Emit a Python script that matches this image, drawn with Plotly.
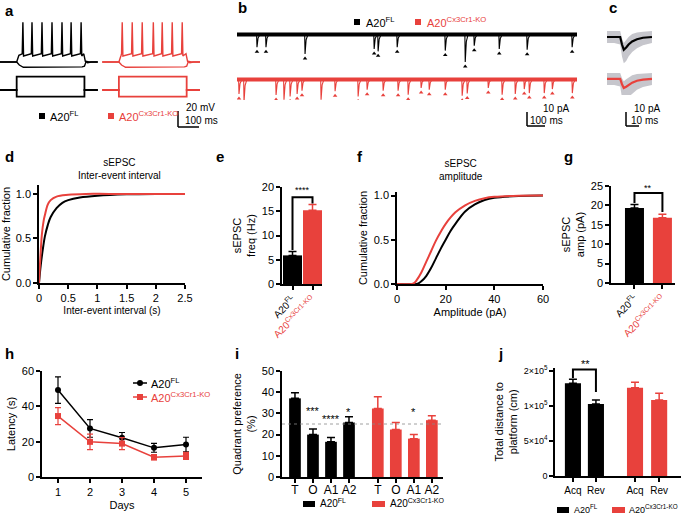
import plotly.graph_objects as go

W, H = 685, 514
BLACK = "#000000"
RED = "#E8413C"
GRAY = "#c6c6cc"
FONT = "Liberation Sans, Arial, sans-serif"

# ---------------- data ----------------
# panel a: current-clamp traces (ms, mV, pA)
a_t_end = 440
a_step_on, a_step_off = 75, 380
a_spikes_fl = [103, 144, 189, 234, 279, 320, 365]
a_spikes_ko = [90, 135, 180, 230, 270, 315, 360]
a_rest, a_plateau, a_peak, a_hyper = -65, -54, -12, -72
a_i_pos, a_i_neg = 200, -100

# panel b: sEPSC event times (ms) and amplitudes (pA)
b_fl_t = [111, 161, 378, 762, 784, 890, 1157, 1268, 1318, 1457, 1612, 1862]
b_fl_amp = [8.2, 8.2, 12.7, 9.3, 10.9, 8.2, 10.4, 18.0, 7.1, 9.3, 9.8, 8.2]
b_ko_t = [11, 39, 217, 261, 295, 334, 361, 467, 545, 673, 723, 812, 895, 951,
          1023, 1068, 1157, 1251, 1279, 1396, 1473, 1546, 1596, 1624, 1707, 1752, 1863]
b_ko_amp = [9.3, 14.5, 10.0, 13.1, 10.9, 9.3, 7.1, 13.1, 7.5, 10.9, 6.5, 7.1, 7.1, 9.8,
            5.3, 6.5, 6.5, 10.5, 8.9, 5.3, 9.8, 9.3, 6.0, 8.7, 8.7, 6.0, 8.7]
b_duration = 1889

# panel c: averaged sEPSC (ms, pA)
c_t = [0, 6, 11, 12.5, 14, 16, 18, 21, 25, 30, 37.5]
c_fl_mean = [0, 0, 0, -5, -8.5, -7, -5, -3, -1.5, -0.5, 0]
c_fl_up = [4, 4, 4, 4, 4.5, 5, 5, 5, 4.5, 4, 4]
c_fl_lo = [4, 4, 5, 8, 9, 9, 8, 7, 6, 5, 4]
c_ko_mean = [0, 0, 0, -3.5, -6, -5.2, -4, -2.5, -1.2, -0.4, 0]
c_ko_up = [4, 4, 4, 4, 4.5, 5, 5, 5, 4.5, 4, 4]
c_ko_lo = [4, 4, 5, 9, 10, 9, 8, 7, 6, 5, 4]

# panel d: cumulative inter-event interval
d_fl_x = [0, 0.03, 0.07, 0.1, 0.15, 0.2, 0.3, 0.4, 0.5, 0.7, 1.0, 1.5, 2.0, 2.5]
d_fl_y = [0, 0.2, 0.4, 0.52, 0.65, 0.74, 0.84, 0.9, 0.93, 0.96, 0.98, 0.995, 1, 1]
d_ko_x = [0, 0.02, 0.05, 0.08, 0.1, 0.15, 0.2, 0.3, 0.5, 0.8, 1.2, 2.5]
d_ko_y = [0, 0.25, 0.55, 0.7, 0.76, 0.88, 0.93, 0.97, 0.99, 1, 1, 1]

# panel e: sEPSC frequency (Hz)
e_vals = [5.9, 15.2]
e_errs = [0.8, 1.2]

# panel f: cumulative amplitude
f_fl_x = [0, 8, 9, 10, 12, 14, 16, 18, 20, 22, 24, 28, 32, 36, 40, 50, 60]
f_fl_y = [0, 0, 0.01, 0.03, 0.09, 0.18, 0.29, 0.4, 0.5, 0.6, 0.68, 0.82, 0.9, 0.95, 0.975, 0.995, 1]
f_ko_x = [0, 6, 7, 8, 10, 12, 14, 16, 18, 20, 24, 28, 32, 36, 40, 50, 60]
f_ko_y = [0, 0, 0.01, 0.04, 0.13, 0.25, 0.37, 0.49, 0.59, 0.68, 0.81, 0.89, 0.94, 0.97, 0.985, 0.998, 1]

# panel g: sEPSC amplitude (pA)
g_vals = [19.3, 16.8]
g_errs = [0.9, 0.9]

# panel h: latency (s)
h_days = [1, 2, 3, 4, 5]
h_fl = [49.2, 27.5, 22.2, 16.5, 18.4]
h_fl_err = [7.5, 5.0, 3.0, 2.5, 4.1]
h_ko = [34.5, 19.9, 18.9, 11.2, 11.9]
h_ko_err = [4.8, 4.4, 3.4, 1.5, 2.0]

# panel i: quadrant preference (%)
i_cats = ["T", "O", "A1", "A2"]
i_fl = [37.1, 20.0, 16.6, 25.7]
i_fl_err = [2.6, 2.6, 2.0, 2.7]
i_ko = [32.3, 22.4, 18.1, 26.8]
i_ko_err = [5.6, 3.3, 1.9, 2.1]

# panel j: total distance (cm)
j_cats = ["Acq", "Rev"]
j_fl = [1.324e5, 1.029e5]
j_fl_err = [0.057e5, 0.057e5]
j_ko = [1.262e5, 1.086e5]
j_ko_err = [0.076e5, 0.095e5]
j_tickvals = [0, 5e4, 1e5, 1.5e5]
j_ticktext = ["0", "5×10<sup>4</sup>", "1×10<sup>5</sup>", "2×10<sup>5</sup>"]

FL = "A20<sup>FL</sup>"
KO = "A20<sup>Cx3Cr1-KO</sup>"

# ---------------- helpers ----------------
def xd(x0, x1):
    return [x0 / W, x1 / W]

def yd(y0, y1):
    return [1 - y1 / H, 1 - y0 / H]

fig = go.Figure()
shapes = []
anns = []

def px(x):
    return x / W

def py(y):
    return 1 - y / H

def pline(x0, y0, x1, y1, color=BLACK, width=1.5):
    shapes.append(dict(type="line", xref="paper", yref="paper", x0=px(x0), y0=py(y0),
                       x1=px(x1), y1=py(y1), line=dict(color=color, width=width)))

def prect(x0, y0, x1, y1, color):
    shapes.append(dict(type="rect", xref="paper", yref="paper", x0=px(x0), y0=py(y0),
                       x1=px(x1), y1=py(y1), line=dict(width=0), fillcolor=color))

def ann(text, x, y, size=11, color=BLACK, xanchor="left", yanchor="middle", bold=False):
    if bold:
        text = "<b>" + text + "</b>"
    anns.append(dict(text=text, xref="paper", yref="paper", x=px(x), y=py(y), showarrow=False,
                     xanchor=xanchor, yanchor=yanchor, font=dict(size=size, color=color, family=FONT)))

def dann(text, xr, yr, x, y, size=11, color=BLACK):
    anns.append(dict(text=text, xref=xr, yref=yr, x=x, y=y, showarrow=False, xanchor="center",
                     yanchor="middle", font=dict(size=size, color=color, family=FONT)))

def dpath(xr, yr, xs, ys, color=BLACK, width=1.6):
    d = "M " + " L ".join(f"{a},{b}" for a, b in zip(xs, ys))
    shapes.append(dict(type="path", xref=xr, yref=yr, path=d, line=dict(color=color, width=width)))

HIDDEN = dict(visible=False, fixedrange=True, showgrid=False, zeroline=False)

def axis(**kw):
    d = dict(showline=True, linecolor=BLACK, linewidth=1.5, ticks="outside", ticklen=4,
             tickwidth=1.5, tickcolor=BLACK, showgrid=False, zeroline=False, mirror=False,
             tickfont=dict(size=11, family=FONT, color=BLACK), fixedrange=True)
    d.update(kw)
    return d

def title(text, size=11, standoff=None):
    t = dict(text=text, font=dict(size=size, family=FONT, color=BLACK))
    if standoff is not None:
        t["standoff"] = standoff
    return t

# ---------------- panel a ----------------
def vtrace(spikes):
    t = [0, a_step_on, a_step_on + 10]
    v = [a_rest, a_rest, a_plateau - 2]
    for s in spikes:
        t += [s - 3, s, s + 3]
        v += [a_plateau, a_peak, a_plateau - 3]
    t += [a_step_off - 3, a_step_off + 4, a_step_off + 14, a_step_off + 30, a_t_end]
    v += [a_plateau, a_rest + 1, a_rest - 1, a_rest, a_rest]
    return t, v

def htrace():
    t = [0, a_step_on, a_step_on + 12, a_step_on + 30, a_step_off - 10, a_step_off,
         a_step_off + 8, a_step_off + 20, a_t_end]
    v = [a_rest, a_rest, a_hyper + 3, a_hyper, a_hyper + 0.5, a_hyper + 1.5, a_rest + 1, a_rest, a_rest]
    return t, v

def itrace(amp):
    return ([0, a_step_on, a_step_on, a_step_off, a_step_off, a_t_end],
            [0, 0, amp, amp, 0, 0])

ko_shift = 460
for spikes, col, sh in [(a_spikes_fl, BLACK, 0), (a_spikes_ko, RED, ko_shift)]:
    t, v = vtrace(spikes)
    fig.add_trace(go.Scatter(x=[q + sh for q in t], y=v, mode="lines", line=dict(color=col, width=1.4),
                             xaxis="x", yaxis="y", hoverinfo="skip"))
    t, v = htrace()
    fig.add_trace(go.Scatter(x=[q + sh for q in t], y=v, mode="lines", line=dict(color=col, width=1.4),
                             xaxis="x", yaxis="y", hoverinfo="skip"))
    for amp in (a_i_pos, a_i_neg):
        t, v = itrace(amp)
        fig.add_trace(go.Scatter(x=[q + sh for q in t], y=v, mode="lines", line=dict(color=col, width=1.8),
                                 xaxis="x2", yaxis="y2", hoverinfo="skip"))

# ---------------- panel b ----------------
def etrace(times, amps, base):
    t, y = [0], [base]
    for te, a in zip(times, amps):
        t += [te - 2, te, te + 1.5, te + 6, te + 15]
        y += [base, base - a, base - a * 0.6, base - a * 0.25, base]
    t.append(b_duration)
    y.append(base)
    return t, y

for times, amps, col, base in [(b_fl_t, b_fl_amp, BLACK, 0), (b_ko_t, b_ko_amp, RED, -30)]:
    fig.add_trace(go.Scatter(x=[0, b_duration], y=[base + 0.3, base + 0.3], mode="lines",
                             line=dict(color=col, width=4), xaxis="x3", yaxis="y3", hoverinfo="skip"))
    t, y = etrace(times, amps, base)
    fig.add_trace(go.Scatter(x=t, y=y, mode="lines", line=dict(color=col, width=1.1),
                             xaxis="x3", yaxis="y3", hoverinfo="skip"))
    fig.add_trace(go.Scatter(x=times, y=[base - a - 3 for a in amps], mode="markers",
                             marker=dict(symbol="triangle-up", size=4, color=col),
                             xaxis="x3", yaxis="y3", hoverinfo="skip"))

# ---------------- panel c ----------------
for mean, up, lo, col, base in [(c_fl_mean, c_fl_up, c_fl_lo, BLACK, 0),
                                (c_ko_mean, c_ko_up, c_ko_lo, RED, -28)]:
    upper = [base + m + u for m, u in zip(mean, up)]
    lower = [base + m - l for m, l in zip(mean, lo)]
    fig.add_trace(go.Scatter(x=c_t + c_t[::-1], y=upper + lower[::-1], fill="toself",
                             fillcolor=GRAY, line=dict(width=0), mode="lines",
                             xaxis="x4", yaxis="y4", hoverinfo="skip"))
    fig.add_trace(go.Scatter(x=c_t, y=[base + m for m in mean], mode="lines",
                             line=dict(color=col, width=2.2), xaxis="x4", yaxis="y4", hoverinfo="skip"))

# ---------------- panel d ----------------
fig.add_trace(go.Scatter(x=d_fl_x, y=d_fl_y, mode="lines", line=dict(color=BLACK, width=2, shape="spline"),
                         xaxis="x5", yaxis="y5"))
fig.add_trace(go.Scatter(x=d_ko_x, y=d_ko_y, mode="lines", line=dict(color=RED, width=2, shape="spline"),
                         xaxis="x5", yaxis="y5"))

# ---------------- bars helper ----------------
def bar(xs, ys, errs, col, width, xa, ya):
    fig.add_trace(go.Bar(x=xs, y=ys, width=width, marker=dict(color=col, line=dict(width=0)),
                         error_y=dict(type="data", array=errs, arrayminus=[0] * len(errs), symmetric=False,
                                      color=col, thickness=1.5, width=4),
                         xaxis=xa, yaxis=ya))

# panel e
bar([0], [e_vals[0]], [e_errs[0]], BLACK, 0.95, "x6", "y6")
bar([1], [e_vals[1]], [e_errs[1]], RED, 0.95, "x6", "y6")
dpath("x6", "y6", [0, 0, 1, 1], [7.0, 17.9, 17.9, 16.6], width=2)
dann("****", "x6", "y6", 0.5, 19.3, size=9)

# ---------------- panel f ----------------
fig.add_trace(go.Scatter(x=f_fl_x, y=f_fl_y, mode="lines", line=dict(color=BLACK, width=2, shape="spline"),
                         xaxis="x7", yaxis="y7"))
fig.add_trace(go.Scatter(x=f_ko_x, y=f_ko_y, mode="lines", line=dict(color=RED, width=2, shape="spline"),
                         xaxis="x7", yaxis="y7"))

# panel g
bar([0], [g_vals[0]], [g_errs[0]], BLACK, 0.68, "x8", "y8")
bar([1], [g_vals[1]], [g_errs[1]], RED, 0.68, "x8", "y8")
dpath("x8", "y8", [0, 0, 1, 1], [20.6, 23.2, 23.2, 18.3], width=2)
dann("**", "x8", "y8", 0.5, 24.4, size=9)

# ---------------- panel h ----------------
fig.add_trace(go.Scatter(x=h_days, y=h_fl, mode="lines+markers", line=dict(color=BLACK, width=1.5),
                         marker=dict(symbol="circle", size=6, color=BLACK),
                         error_y=dict(type="data", array=h_fl_err, color=BLACK, thickness=1.2, width=3),
                         xaxis="x9", yaxis="y9"))
fig.add_trace(go.Scatter(x=h_days, y=h_ko, mode="lines+markers", line=dict(color=RED, width=1.5),
                         marker=dict(symbol="square", size=6, color=RED),
                         error_y=dict(type="data", array=h_ko_err, color=RED, thickness=1.2, width=3),
                         xaxis="x9", yaxis="y9"))

# ---------------- panel i ----------------
i_pos_fl = [k for k in range(len(i_cats))]
i_pos_ko = [k + 4.6 for k in range(len(i_cats))]
bar(i_pos_fl, i_fl, i_fl_err, BLACK, 0.65, "x10", "y10")
bar(i_pos_ko, i_ko, i_ko_err, RED, 0.65, "x10", "y10")
shapes.append(dict(type="line", xref="x10 domain", yref="y10", x0=0, x1=1, y0=25, y1=25,
                   line=dict(color="#888888", width=0.8, dash="dot")))
dann("***", "x10", "y10", i_pos_fl[1], 31.0, size=11)
dann("****", "x10", "y10", i_pos_fl[2], 27.5, size=11)
dann("*", "x10", "y10", i_pos_fl[3], 30.8, size=11)
dann("*", "x10", "y10", i_pos_ko[2], 30.8, size=11)

# ---------------- panel j ----------------
j_pos_fl = [0, 1]
j_pos_ko = [2.7, 3.75]
bar(j_pos_fl, j_fl, j_fl_err, BLACK, 0.7, "x11", "y11")
bar(j_pos_ko, j_ko, j_ko_err, RED, 0.7, "x11", "y11")
dpath("x11", "y11", [0, 0, 1, 1], [1.40e5, 1.52e5, 1.52e5, 1.20e5], width=2)

# ---------------- annotations: letters, titles, legends, scale bars ----------------
for L, x, y in [("a", 3, 10), ("b", 236, 8), ("c", 607, 8), ("d", 3, 156), ("e", 214, 156),
                ("f", 355, 156), ("g", 562, 156), ("h", 3, 353), ("i", 233, 353), ("j", 496, 353)]:
    ann(L, x, y, size=15, bold=True)

# panel j significance (above the axis range, so placed on the page)
ann("**", 585, 364, size=11, xanchor="center")

# panel a legend and scale
prect(39, 113, 45, 119, BLACK)
ann(FL, 48, 116, size=11)
prect(108, 113, 114, 119, RED)
ann(KO, 117, 116, size=11, color=RED)
pline(178, 111, 178, 127)
pline(178, 127, 199, 127)
ann("20 mV", 184, 107, size=10)
ann("100 ms", 183, 120, size=10)

# panel b legend and scale
prect(354, 19, 360, 25, BLACK)
ann(FL, 364, 22, size=11)
prect(415, 19, 421, 25, RED)
ann(KO, 425, 22, size=11, color=RED)
pline(527, 112, 527, 126)
pline(527, 126, 545, 126)
ann("10 pA", 541, 108, size=10)
ann("100 ms", 528, 120, size=10)

# panel c scale
pline(626, 112, 626, 126)
pline(626, 126, 639, 126)
ann("10 pA", 632, 108, size=10)
ann("10 ms", 629, 120, size=10)

# panel d, f titles
ann("sEPSC<br>Inter-event interval", 119, 169, size=10, xanchor="center")
ann("sEPSC<br>amplitude", 461, 170, size=10, xanchor="center")

# panel h legend
pline(133, 383, 147, 383, BLACK, 1.5)
shapes.append(dict(type="circle", xref="paper", yref="paper", x0=px(137), x1=px(143), y0=py(380), y1=py(386),
                   fillcolor=BLACK, line=dict(width=0)))
ann(FL, 149, 383, size=11)
pline(133, 397, 147, 397, RED, 1.5)
prect(137, 394, 143, 400, RED)
ann(KO, 149, 397, size=11, color=RED)

# panel i legend
prect(303, 501, 315, 507, BLACK)
ann(FL, 318, 503, size=10)
prect(372, 501, 385, 507, RED)
ann(KO, 388, 503, size=10)

# panel j legend
prect(557, 507, 569, 513, BLACK)
ann(FL, 572, 509, size=9)
prect(612, 507, 625, 513, RED)
ann(KO, 627, 509, size=9)

rot_ticks = [FL, f"<span style='color:{RED}'>{KO}</span>"]

layout = dict(
    width=W, height=H, margin=dict(l=0, r=0, t=0, b=0, autoexpand=False),
    paper_bgcolor="white", plot_bgcolor="white",
    showlegend=False, barmode="overlay", font=dict(family=FONT, size=11, color=BLACK),
    # a
    xaxis=dict(HIDDEN, domain=xd(0, 205), range=[0, 922.5], anchor="y"),
    yaxis=dict(HIDDEN, domain=yd(15, 75), range=[-82.3, -2.3], anchor="x"),
    xaxis2=dict(HIDDEN, domain=xd(0, 205), range=[0, 922.5], anchor="y2"),
    yaxis2=dict(HIDDEN, domain=yd(72, 100), range=[-150, 270], anchor="x2"),
    # b
    xaxis3=dict(HIDDEN, domain=xd(237, 577), range=[0, b_duration], anchor="y3"),
    yaxis3=dict(HIDDEN, domain=yd(15, 100), range=[-43.3, 13.3], anchor="x3"),
    # c
    xaxis4=dict(HIDDEN, domain=xd(605, 657), range=[-1.67, 41.7], anchor="y4"),
    yaxis4=dict(HIDDEN, domain=yd(25, 95), range=[-38.7, 8], anchor="x4"),
    # d
    xaxis5=axis(domain=xd(39, 185), range=[0, 2.5], anchor="y5", tickvals=[0, 0.5, 1, 1.5, 2, 2.5],
                ticktext=["0", "0.5", "1", "1.5", "2", "2.5"], title=title("Inter-event interval (s)", 10, 4)),
    yaxis5=axis(domain=yd(185, 283), range=[0, 1.1], anchor="x5", tickvals=[0, 0.5, 1],
                ticktext=["0.0", "0.5", "1.0"], title=title("Cumulative fraction", 11, 4)),
    # e
    xaxis6=axis(domain=xd(282, 322), range=[-0.525, 1.475], anchor="y6", tickvals=[0, 1], ticktext=rot_ticks,
                tickangle=-45, tickfont=dict(size=10, family=FONT, color=BLACK)),
    yaxis6=axis(domain=yd(187, 284), range=[0, 20], anchor="x6", tickvals=[0, 5, 10, 15, 20],
                title=title("sEPSC<br>freq (Hz)", 11, 4)),
    # f
    xaxis7=axis(domain=xd(397, 543), range=[0, 60], anchor="y7", tickvals=[0, 20, 40, 60],
                title=title("Amplitude (pA)", 11, 4)),
    yaxis7=axis(domain=yd(192, 284), range=[0, 1.04], anchor="x7", tickvals=[0, 0.5, 1],
                ticktext=["0.0", "0.5", "1.0"], title=title("Cumulative fraction", 11, 4)),
    # g
    xaxis8=axis(domain=xd(611, 675), range=[-0.84, 1.45], anchor="y8", tickvals=[0, 1], ticktext=rot_ticks,
                tickangle=-45, tickfont=dict(size=10, family=FONT, color=BLACK)),
    yaxis8=axis(domain=yd(186, 283), range=[0, 25], anchor="x8", tickvals=[0, 5, 10, 15, 20, 25],
                title=title("sEPSC<br>amp (pA)", 11, 4)),
    # h
    xaxis9=axis(domain=xd(42, 202), range=[0.5, 5.5], anchor="y9", tickvals=h_days,
                title=title("Days", 11, 4)),
    yaxis9=axis(domain=yd(371, 477), range=[0, 60], anchor="x9", tickvals=[0, 20, 40, 60],
                title=title("Latency (s)", 11, 4)),
    # i
    xaxis10=axis(domain=xd(282, 443), range=[-0.72, 8.22], anchor="y10", tickvals=i_pos_fl + i_pos_ko,
                 ticktext=i_cats + i_cats, tickfont=dict(size=12, family=FONT, color=BLACK),
                 ticklabelstandoff=-3),
    yaxis10=axis(domain=yd(371, 477), range=[0, 50], anchor="x10", tickvals=[0, 10, 20, 30, 40, 50],
                 title=title("Quadrant preference<br>(%)", 11, 4)),
    # j
    xaxis11=axis(domain=xd(555, 681), range=[-0.78, 4.7], anchor="y11", tickvals=j_pos_fl + j_pos_ko,
                 ticktext=j_cats + j_cats, tickfont=dict(size=10, family=FONT, color=BLACK)),
    yaxis11=axis(domain=yd(367.5, 476), range=[0, 1.55e5], anchor="x11", tickvals=j_tickvals,
                 ticktext=j_ticktext, tickfont=dict(size=9, family=FONT, color=BLACK),
                 title=title("Total distance to<br>platform (cm)", 11, 4)),
    shapes=shapes, annotations=anns,
)
fig.update_layout(**layout)
fig.write_html("out.html", config={"displayModeBar": False},
               post_script="document.body.style.margin='0px';document.body.style.padding='0px';")
